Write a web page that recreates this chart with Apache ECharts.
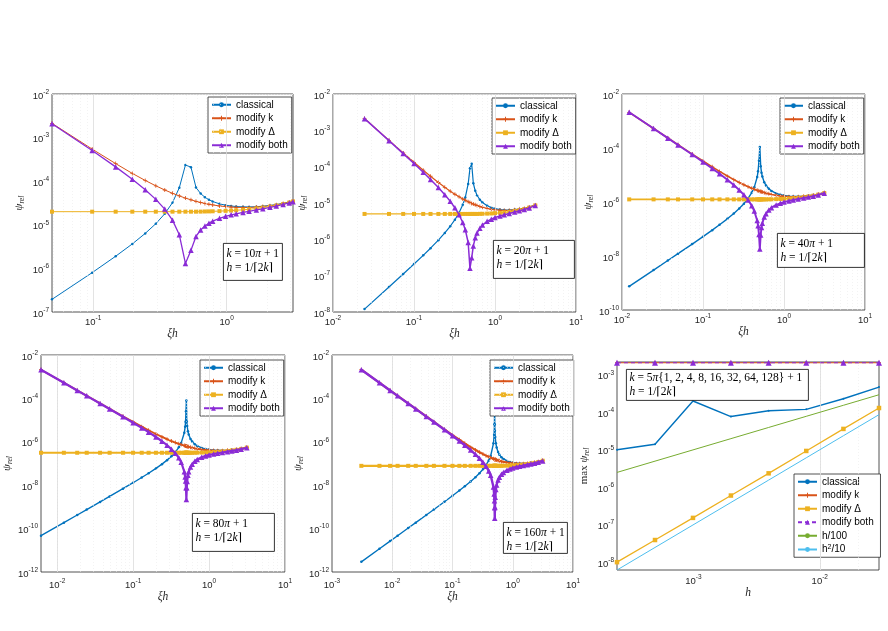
<!DOCTYPE html>
<html>
<head>
<meta charset="utf-8">
<script src="https://cdn.jsdelivr.net/npm/echarts@6/dist/echarts.min.js"></script>
<style>html,body{margin:0;padding:0;background:#fff}#main{width:888px;height:631px}</style>
</head>
<body>
<div id="main"></div>
<script>
// ---- panel 1 : k = 10pi+1 ----
const p1Xi = [0.0491, 0.0982, 0.1473, 0.1963, 0.2454, 0.2945, 0.3436, 0.3927, 0.4418, 0.4909,
  0.5400, 0.5890, 0.6381, 0.6872, 0.7363, 0.7854, 0.8836, 0.9817, 1.0799, 1.1781,
  1.3254, 1.4726, 1.6690, 1.8653, 2.1108, 2.3562, 2.6507, 2.9452, 3.1416];
const p1Classical = [1.95e-7, 8.0e-7, 1.9e-6, 3.64e-6, 6.35e-6, 1.06e-5, 1.79e-5, 3.22e-5, 7.1e-5, 2.35e-4,
  2.1e-4, 7.2e-5, 5.2e-5, 4.29e-5, 3.76e-5, 3.43e-5, 3.02e-5, 2.82e-5, 2.7e-5, 2.62e-5,
  2.58e-5, 2.57e-5, 2.6e-5, 2.67e-5, 2.78e-5, 2.91e-5, 3.11e-5, 3.34e-5, 3.53e-5];
const p1ModK = [2.12e-3, 5.45e-4, 2.53e-4, 1.51e-4, 1.04e-4, 7.83e-5, 6.29e-5, 5.28e-5, 4.59e-5, 4.1e-5,
  3.74e-5, 3.46e-5, 3.25e-5, 3.09e-5, 2.96e-5, 2.86e-5, 2.7e-5, 2.62e-5, 2.55e-5, 2.51e-5,
  2.5e-5, 2.5e-5, 2.55e-5, 2.63e-5, 2.73e-5, 2.87e-5, 3.07e-5, 3.3e-5, 3.49e-5];
const p1ModDelta = [2e-5, 2e-5, 2e-5, 2e-5, 2e-5, 2e-5, 2e-5, 2e-5, 2e-5, 2e-5,
  2e-5, 2e-5, 2.006e-5, 2.02e-5, 2.03e-5, 2.04e-5, 2.06e-5, 2.09e-5, 2.12e-5, 2.15e-5,
  2.21e-5, 2.27e-5, 2.37e-5, 2.48e-5, 2.62e-5, 2.78e-5, 3.0e-5, 3.24e-5, 3.44e-5];
const p1ModBoth = [2.08e-3, 5.05e-4, 2.13e-4, 1.11e-4, 6.4e-5, 3.83e-5, 2.29e-5, 1.28e-5, 5.9e-6, 1.3e-6,
  2.6e-6, 5.4e-6, 7.6e-6, 9.4e-6, 1.09e-5, 1.21e-5, 1.41e-5, 1.57e-5, 1.69e-5, 1.79e-5,
  1.92e-5, 2.04e-5, 2.19e-5, 2.33e-5, 2.51e-5, 2.69e-5, 2.93e-5, 3.18e-5, 3.39e-5];

// ---- panel 2 : k = 20pi+1 ----
const p2Xi = [0.0245, 0.0491, 0.0736,
  0.1, 0.13, 0.16, 0.2, 0.24, 0.28, 0.32, 0.36, 0.4, 0.43,
  0.4663, 0.4909, 0.5154, 0.54,
  0.57, 0.6, 0.65, 0.7, 0.8, 0.9, 1.0, 1.15, 1.3, 1.5, 1.75, 2.0, 2.3, 2.65, 3.14];
const p2Classical = [1.2e-8, 4.87e-8, 1.11e-7,
  2.09e-7, 3.63e-7, 5.7e-7, 9.5e-7, 1.5e-6, 2.29e-6, 3.47e-6, 5.38e-6, 8.9e-6, 1.42e-5,
  3.34e-5, 9e-5, 1.2e-4, 3.5e-5,
  2.17e-5, 1.64e-5, 1.23e-5, 1.03e-5, 8.37e-6, 7.45e-6, 7e-6, 6.6e-6, 6.46e-6, 6.42e-6, 6.59e-6, 6.83e-6, 7.19e-6, 7.78e-6, 8.83e-6];
const p2ModK = [2.11e-3, 5.3e-4, 2.39e-4,
  1.32e-4, 7.99e-5, 5.44e-5, 3.67e-5, 2.7e-5, 2.12e-5, 1.74e-5, 1.48e-5, 1.29e-5, 1.19e-5,
  1.08e-5, 1.03e-5, 9.76e-6, 9.34e-6,
  8.9e-6, 8.52e-6, 8.02e-6, 7.63e-6, 7.08e-6, 6.71e-6, 6.52e-6, 6.31e-6, 6.25e-6, 6.26e-6, 6.47e-6, 6.72e-6, 7.09e-6, 7.68e-6, 8.73e-6];
const p2ModDelta = [5e-6, 5e-6, 5e-6,
  5e-6, 5e-6, 5e-6, 5e-6, 5e-6, 5e-6, 5e-6, 5e-6, 5e-6, 5e-6,
  5e-6, 5e-6, 5e-6, 5e-6,
  5e-6, 5e-6, 5.03e-6, 5.05e-6, 5.1e-6, 5.15e-6, 5.25e-6, 5.35e-6, 5.5e-6, 5.7e-6, 6.05e-6, 6.4e-6, 6.85e-6, 7.5e-6, 8.6e-6];
const p2ModBoth = [2.1e-3, 5.2e-4, 2.29e-4,
  1.22e-4, 6.99e-5, 4.44e-5, 2.67e-5, 1.7e-5, 1.12e-5, 7.35e-6, 4.76e-6, 2.9e-6, 1.84e-6,
  8.2e-7, 1.6e-7, 3.1e-7, 6.6e-7,
  1.1e-6, 1.49e-6, 2.03e-6, 2.47e-6, 3.13e-6, 3.59e-6, 3.99e-6, 4.4e-6, 4.75e-6, 5.14e-6, 5.64e-6, 6.09e-6, 6.61e-6, 7.32e-6, 8.47e-6];

// ---- panel 3 : k = 40pi+1 ----
const p3Xi = [0.01227, 0.02454, 0.0368, 0.0491, 0.0736,
  0.1, 0.13, 0.16, 0.2, 0.24, 0.28, 0.32, 0.36, 0.4, 0.43,
  0.4663, 0.4786, 0.4909, 0.5031, 0.5154, 0.5277, 0.54,
  0.57, 0.6, 0.65, 0.7, 0.8, 0.9, 1.0, 1.15, 1.3, 1.5, 1.75, 2.0, 2.3, 2.65, 3.14];
const p3Classical = [7.5e-10, 3.0e-9, 6.8e-9, 1.22e-8, 2.77e-8,
  5.2e-8, 9.06e-8, 1.43e-7, 2.38e-7, 3.74e-7, 5.71e-7, 8.68e-7, 1.35e-6, 2.23e-6, 3.55e-6,
  8.35e-6, 1.37e-5, 3.34e-5, 1.1e-4, 2.13e-5, 1.22e-5, 8.76e-6,
  5.43e-6, 4.09e-6, 3.08e-6, 2.58e-6, 2.09e-6, 1.86e-6, 1.75e-6, 1.65e-6, 1.61e-6, 1.6e-6, 1.65e-6, 1.71e-6, 1.8e-6, 1.94e-6, 2.21e-6];
const p3ModK = [2.1e-3, 5.28e-4, 2.35e-4, 1.32e-4, 5.96e-5,
  3.29e-5, 2.0e-5, 1.36e-5, 9.16e-6, 6.74e-6, 5.29e-6, 4.34e-6, 3.69e-6, 3.23e-6, 2.96e-6,
  2.71e-6, 2.63e-6, 2.56e-6, 2.5e-6, 2.44e-6, 2.39e-6, 2.34e-6,
  2.22e-6, 2.13e-6, 2.0e-6, 1.91e-6, 1.77e-6, 1.68e-6, 1.63e-6, 1.58e-6, 1.56e-6, 1.57e-6, 1.62e-6, 1.68e-6, 1.77e-6, 1.92e-6, 2.18e-6];
const p3ModDelta = [1.25e-6, 1.25e-6, 1.25e-6, 1.25e-6, 1.25e-6,
  1.25e-6, 1.25e-6, 1.25e-6, 1.25e-6, 1.25e-6, 1.25e-6, 1.25e-6, 1.25e-6, 1.25e-6, 1.25e-6,
  1.25e-6, 1.25e-6, 1.25e-6, 1.25e-6, 1.25e-6, 1.25e-6, 1.25e-6,
  1.25e-6, 1.25e-6, 1.256e-6, 1.26e-6, 1.28e-6, 1.29e-6, 1.31e-6, 1.34e-6, 1.38e-6, 1.43e-6, 1.51e-6, 1.6e-6, 1.71e-6, 1.88e-6, 2.15e-6];
const p3ModBoth = [2.1e-3, 5.26e-4, 2.32e-4, 1.3e-4, 5.71e-5,
  3.04e-5, 1.75e-5, 1.11e-5, 6.66e-6, 4.24e-6, 2.79e-6, 1.84e-6, 1.19e-6, 7.26e-7, 4.6e-7,
  2.05e-7, 1.31e-7, 6.2e-8, 1.8e-8, 5.95e-8, 1.14e-7, 1.65e-7,
  2.76e-7, 3.71e-7, 5.08e-7, 6.18e-7, 7.81e-7, 8.98e-7, 9.96e-7, 1.1e-6, 1.19e-6, 1.29e-6, 1.41e-6, 1.52e-6, 1.65e-6, 1.83e-6, 2.12e-6];

// ---- panel 4 : k = 80pi+1 ----
const p4Xi = [0.006136, 0.01227, 0.0184, 0.02454, 0.0368, 0.0491, 0.0736,
  0.1, 0.13, 0.16, 0.2, 0.24, 0.28, 0.32, 0.36, 0.4, 0.43,
  0.4725, 0.4848, 0.4909, 0.497, 0.5031, 0.5093, 0.5154, 0.5277, 0.54,
  0.57, 0.6, 0.65, 0.7, 0.8, 0.9, 1.0, 1.15, 1.3, 1.5, 1.75, 2.0, 2.3, 2.65, 3.14];
const p4Classical = [4.7e-11, 1.88e-10, 4.24e-10, 7.52e-10, 1.7e-9, 3.04e-9, 6.92e-9,
  1.3e-8, 2.27e-8, 3.56e-8, 5.94e-8, 9.34e-8, 1.43e-7, 2.17e-7, 3.36e-7, 5.56e-7, 8.88e-7,
  2.61e-6, 4.91e-6, 8.34e-6, 2.58e-5, 8e-5, 8.63e-6, 5.31e-6, 3.06e-6, 2.19e-6,
  1.36e-6, 1.02e-6, 7.69e-7, 6.44e-7, 5.23e-7, 4.66e-7, 4.38e-7, 4.12e-7, 4.03e-7, 4.01e-7, 4.12e-7, 4.27e-7, 4.49e-7, 4.86e-7, 5.52e-7];
const p4ModK = [2.1e-3, 5.25e-4, 2.34e-4, 1.32e-4, 5.87e-5, 3.31e-5, 1.49e-5,
  8.22e-6, 4.99e-6, 3.4e-6, 2.29e-6, 1.68e-6, 1.32e-6, 1.08e-6, 9.22e-7, 8.06e-7, 7.41e-7,
  6.67e-7, 6.49e-7, 6.41e-7, 6.33e-7, 6.25e-7, 6.17e-7, 6.1e-7, 5.97e-7, 5.84e-7,
  5.56e-7, 5.32e-7, 5.01e-7, 4.77e-7, 4.42e-7, 4.19e-7, 4.07e-7, 3.94e-7, 3.91e-7, 3.91e-7, 4.04e-7, 4.2e-7, 4.43e-7, 4.8e-7, 5.46e-7];
const p4ModDelta = [3.125e-7, 3.125e-7, 3.125e-7, 3.125e-7, 3.125e-7, 3.125e-7, 3.125e-7,
  3.125e-7, 3.125e-7, 3.125e-7, 3.125e-7, 3.125e-7, 3.125e-7, 3.125e-7, 3.125e-7, 3.125e-7, 3.125e-7,
  3.125e-7, 3.125e-7, 3.125e-7, 3.125e-7, 3.125e-7, 3.125e-7, 3.125e-7, 3.125e-7, 3.125e-7,
  3.125e-7, 3.125e-7, 3.14e-7, 3.16e-7, 3.19e-7, 3.22e-7, 3.28e-7, 3.34e-7, 3.44e-7, 3.56e-7, 3.78e-7, 4.0e-7, 4.28e-7, 4.69e-7, 5.38e-7];
const p4ModBoth = [2.1e-3, 5.25e-4, 2.33e-4, 1.31e-4, 5.81e-5, 3.25e-5, 1.43e-5,
  7.59e-6, 4.37e-6, 2.78e-6, 1.67e-6, 1.06e-6, 6.97e-7, 4.59e-7, 2.98e-7, 1.82e-7, 1.15e-7,
  4.16e-8, 2.39e-8, 1.56e-8, 7.6e-9, 2.2e-9, 7.7e-9, 1.49e-8, 2.86e-8, 4.13e-8,
  6.91e-8, 9.28e-8, 1.27e-7, 1.54e-7, 1.95e-7, 2.24e-7, 2.49e-7, 2.75e-7, 2.97e-7, 3.21e-7, 3.52e-7, 3.8e-7, 4.13e-7, 4.58e-7, 5.29e-7];

// ---- panel 5 : k = 160pi+1 ----
const p5Xi = [0.003068, 0.006136, 0.0092, 0.01227, 0.0184, 0.02454, 0.0368, 0.0491, 0.0736,
  0.1, 0.13, 0.16, 0.2, 0.24, 0.28, 0.32, 0.36, 0.4, 0.43,
  0.4786, 0.4909, 0.497, 0.5001, 0.5031, 0.5062, 0.5123, 0.5246, 0.54,
  0.57, 0.6, 0.65, 0.7, 0.8, 0.9, 1.0, 1.15, 1.3, 1.5, 1.75, 2.0, 2.3, 2.65, 3.14];
const p5Classical = [2.94e-12, 1.18e-11, 2.65e-11, 4.71e-11, 1.06e-10, 1.88e-10, 4.25e-10, 7.61e-10, 1.73e-9,
  3.26e-9, 5.66e-9, 8.91e-9, 1.48e-8, 2.34e-8, 3.57e-8, 5.42e-8, 8.41e-8, 1.39e-7, 2.22e-7,
  8.55e-7, 2.09e-6, 6.45e-6, 1.5e-4, 6.35e-6, 3.21e-6, 1.65e-6, 8.53e-7, 5.48e-7,
  3.39e-7, 2.55e-7, 1.92e-7, 1.61e-7, 1.31e-7, 1.16e-7, 1.09e-7, 1.03e-7, 1.01e-7, 1.0e-7, 1.03e-7, 1.07e-7, 1.12e-7, 1.21e-7, 1.38e-7];
const p5ModK = [2.1e-3, 5.25e-4, 2.34e-4, 1.31e-4, 5.85e-5, 3.3e-5, 1.47e-5, 8.27e-6, 3.73e-6,
  2.05e-6, 1.25e-6, 8.5e-7, 5.73e-7, 4.21e-7, 3.3e-7, 2.71e-7, 2.3e-7, 2.02e-7, 1.85e-7,
  1.64e-7, 1.6e-7, 1.58e-7, 1.57e-7, 1.56e-7, 1.55e-7, 1.53e-7, 1.5e-7, 1.46e-7,
  1.39e-7, 1.33e-7, 1.25e-7, 1.19e-7, 1.11e-7, 1.05e-7, 1.02e-7, 9.85e-8, 9.77e-8, 9.78e-8, 1.01e-7, 1.05e-7, 1.11e-7, 1.2e-7, 1.36e-7];
const p5ModDelta = [7.8e-8, 7.8e-8, 7.8e-8, 7.8e-8, 7.8e-8, 7.8e-8, 7.8e-8, 7.8e-8, 7.8e-8,
  7.8e-8, 7.8e-8, 7.8e-8, 7.8e-8, 7.8e-8, 7.8e-8, 7.8e-8, 7.8e-8, 7.8e-8, 7.8e-8,
  7.8e-8, 7.8e-8, 7.8e-8, 7.8e-8, 7.8e-8, 7.8e-8, 7.8e-8, 7.8e-8, 7.8e-8,
  7.8e-8, 7.8e-8, 7.85e-8, 7.89e-8, 7.97e-8, 8.05e-8, 8.2e-8, 8.36e-8, 8.59e-8, 8.91e-8, 9.45e-8, 1.0e-7, 1.07e-7, 1.17e-7, 1.34e-7];
const p5ModBoth = [2.1e-3, 5.25e-4, 2.33e-4, 1.31e-4, 5.83e-5, 3.29e-5, 1.45e-5, 8.12e-6, 3.57e-6,
  1.9e-6, 1.09e-6, 6.94e-7, 4.16e-7, 2.65e-7, 1.74e-7, 1.15e-7, 7.44e-8, 4.54e-8, 2.88e-8,
  8.2e-9, 3.9e-9, 1.9e-9, 9.1e-10, 3e-10, 9.8e-10, 2.8e-9, 6.3e-9, 1.03e-8,
  1.73e-8, 2.32e-8, 3.17e-8, 3.86e-8, 4.88e-8, 5.61e-8, 6.23e-8, 6.87e-8, 7.42e-8, 8.03e-8, 8.8e-8, 9.51e-8, 1.03e-7, 1.14e-7, 1.32e-7];

// ---- panel 6 : max over xi, versus h ----
const p6H = [2.485e-4, 4.967e-4, 9.921e-4, 1.980e-3, 3.937e-3, 7.813e-3, 1.538e-2, 2.941e-2];
const p6Classical = [1.0e-5, 1.4e-5, 2.0e-4, 7.7e-5, 1.1e-4, 1.2e-4, 2.3e-4, 4.7e-4];
const p6ModK = [2.1e-3, 2.1e-3, 2.1e-3, 2.1e-3, 2.1e-3, 2.1e-3, 2.1e-3, 2.1e-3];
const p6ModDelta = [1.0e-8, 3.9e-8, 1.52e-7, 6.0e-7, 2.35e-6, 9.3e-6, 3.6e-5, 1.3e-4];
const p6ModBoth = [2.1e-3, 2.1e-3, 2.1e-3, 2.1e-3, 2.1e-3, 2.1e-3, 2.1e-3, 2.1e-3];
const p6HOver100 = [2.485e-6, 4.967e-6, 9.921e-6, 1.98e-5, 3.937e-5, 7.813e-5, 1.538e-4, 2.941e-4];
const p6HSqOver10 = [6.18e-9, 2.47e-8, 9.84e-8, 3.92e-7, 1.55e-6, 6.1e-6, 2.37e-5, 8.65e-5];

const kLabels = ['10', '20', '40', '80', '160'];

// ---------------------------------------------------------------
const C = { cls: '#0072BD', k: '#D95319', d: '#EDB120', both: '#8A2BD6', lin: '#77AC30', sq: '#4DBEEE' };
const PLUS = 'path://M4,0H6V4H10V6H6V10H4V6H0V4H4Z';
const SANS = '"Liberation Sans", Arial, sans-serif';
const SERIF = '"Liberation Serif", "DejaVu Serif", serif';

function pairs(xs, ys) { return xs.map((x, i) => [x, ys[i]]); }

function tickFmt(step) {
  return function (v) {
    const e = Math.log10(v);
    const r = Math.round(e);
    if (Math.abs(e - r) > 1e-3 || r % step !== 0) return '';
    return '{b|10}{s|' + r + '}';
  };
}
const tickRich = {
  b: { fontSize: 9.5, color: '#262626', fontFamily: SANS, padding: [4, 0, 0, 0] },
  s: { fontSize: 6.5, color: '#262626', fontFamily: SANS, padding: [0, 0, 4, 0] }
};

// grid lines drawn as markLines through the axis scales
function gridLines(xr, yr, yStep, yMinorAll) {
  const out = [];
  const major = { color: '#dcdcdc', width: 0.8, type: 'solid' };
  const minor = { color: '#ebebeb', width: 0.6, type: [1, 2] };
  function add(range, key, step, minorAll) {
    const lo = Math.floor(Math.log10(range[0]));
    const hi = Math.ceil(Math.log10(range[1]));
    for (let e = lo; e <= hi; e++) {
      for (let m = 1; m <= 9; m++) {
        const v = m * Math.pow(10, e);
        if (v < range[0] * 0.9999 || v > range[1] * 1.0001) continue;
        let st = null;
        if (m === 1 && e % step === 0) st = major;
        else if (m === 1 || minorAll) st = minor;
        if (st) out.push({ [key]: v, lineStyle: st });
      }
    }
  }
  add(xr, 'xAxis', 1, true);
  add(yr, 'yAxis', yStep, yMinorAll);
  return out;
}

// w: line width used for the dense curves of each panel
const layout = [
  { grid: [52, 94, 241, 218], x: [0.0491, 3.1416], y: [1e-7, 1e-2], yStep: 1, yMinor: true, lm: 1, ng: 7, yng: 25, legend: [208, 97], note: [223, 243, 59, 37], w: 1 },
  { grid: [333, 94, 243, 218], x: [1e-2, 10], y: [1e-8, 1e-2], yStep: 1, yMinor: true, lm: 1, ng: 7, yng: 23, legend: [492, 98], note: [493, 240, 81, 38], w: 1.2 },
  { grid: [622, 94, 243, 216], x: [1e-2, 10], y: [1e-10, 1e-2], yStep: 2, yMinor: false, lm: 1, ng: 7, yng: 19, legend: [780, 98], note: [777, 233, 87, 34], w: 1.6 },
  { grid: [41, 355, 244, 217], x: [0.006136, 10], y: [1.00001e-12, 1e-2], yStep: 2, yMinor: false, lm: 4, ng: 17, yng: 25, legend: [200, 360], note: [192, 513, 82, 38], w: 1.9 },
  { grid: [332, 355, 241, 217], x: [1e-3, 10], y: [1.00001e-12, 1e-2], yStep: 2, yMinor: false, lm: 4, ng: 17, yng: 25, legend: [490, 360], note: [503, 522, 64, 31], w: 2.1 },
  { grid: [617, 362, 262, 208], x: [2.485e-4, 2.941e-2], y: [6.18e-9, 2.2e-3], yStep: 1, yMinor: true, lm: 2, ng: 12, yng: 25, legend: [794, 474], note: [626, 369, 182, 31], w: 1 }
];

const panelData = [
  [p1Xi, p1Classical, p1ModK, p1ModDelta, p1ModBoth],
  [p2Xi, p2Classical, p2ModK, p2ModDelta, p2ModBoth],
  [p3Xi, p3Classical, p3ModK, p3ModDelta, p3ModBoth],
  [p4Xi, p4Classical, p4ModK, p4ModDelta, p4ModBoth],
  [p5Xi, p5Classical, p5ModK, p5ModDelta, p5ModBoth]
];

function line(name, idx, xs, ys, color, symbol, size, z, width, extra) {
  return Object.assign({
    name: name, type: 'line', xAxisIndex: idx, yAxisIndex: idx,
    data: pairs(xs, ys), symbol: symbol, symbolSize: size, showSymbol: symbol !== 'none',
    color: color, lineStyle: { width: width, color: color }, itemStyle: { color: color },
    z: z, animation: false, emphasis: { disabled: true }
  }, extra || {});
}

const grids = [], xAxes = [], yAxes = [], series = [], legends = [], graphics = [];

const noteRich = {
  i: { fontFamily: SERIF, fontStyle: 'italic', fontSize: 11.5, color: '#000' }
};

layout.forEach((L, i) => {
  grids.push({ left: L.grid[0], top: L.grid[1], width: L.grid[2], height: L.grid[3],
    show: true, backgroundColor: '#fff', borderColor: '#262626', borderWidth: 0.8 });
  xAxes.push({
    type: 'log', gridIndex: i, min: L.x[0], max: L.x[1],
    axisLine: { show: false }, axisTick: { show: false }, splitLine: { show: false },
    axisLabel: { formatter: tickFmt(1), margin: L.lm, rich: tickRich, hideOverlap: false },
    name: i === 5 ? '{v|h}' : '{v|ξh}', nameLocation: 'middle', nameGap: L.ng,
    nameTextStyle: { rich: { v: { fontFamily: SERIF, fontStyle: 'italic', fontSize: 11.5, color: '#262626' } } }
  });
  yAxes.push({
    type: 'log', gridIndex: i, min: L.y[0], max: L.y[1], splitNumber: 8,
    axisLine: { show: false }, axisTick: { show: false }, splitLine: { show: false },
    axisLabel: { formatter: tickFmt(L.yStep), margin: 3, rich: tickRich, hideOverlap: false },
    name: (i === 5 ? '{m|max }' : '') + '{p|ψ}{r|rel}', nameLocation: 'middle', nameRotate: 90, nameGap: L.yng,
    nameTextStyle: { rich: {
      m: { fontFamily: SERIF, fontSize: 11, color: '#262626', padding: [0, 0, 2, 0] },
      p: { fontFamily: SERIF, fontStyle: 'italic', fontSize: 11, color: '#262626', padding: [0, 0, 2, 0] },
      r: { fontFamily: SERIF, fontStyle: 'italic', fontSize: 7.5, color: '#262626', padding: [4, 0, 0, 0] }
    } }
  });
  series.push({
    type: 'line', xAxisIndex: i, yAxisIndex: i, data: [], z: 1, silent: true, animation: false,
    markLine: { silent: true, symbol: ['none', 'none'], label: { show: false }, animation: false,
      emphasis: { disabled: true }, data: gridLines(L.x, L.y, L.yStep, L.yMinor) }
  });

  const sfx = i === 5 ? ' ' : '';
  if (i < 5) {
    const d = panelData[i];
    series.push(line('classical', i, d[0], d[1], C.cls, 'circle', 2.5, 3, Math.min(L.w, 1.4)));
    series.push(line('modify k', i, d[0], d[2], C.k, PLUS, 4, 4, L.w));
    series.push(line('modify Δ', i, d[0], d[3], C.d, 'rect', 4, 5, L.w));
    series.push(line('modify both', i, d[0], d[4], C.both, 'triangle', 5.5, 6, L.w + 0.3));
  } else {
    series.push(line('classical ', i, p6H, p6Classical, C.cls, 'circle', 2, 3, 1.4));
    series.push(line('modify k ', i, p6H, p6ModK, C.k, PLUS, 4, 4, 1));
    series.push(line('modify Δ ', i, p6H, p6ModDelta, C.d, 'rect', 4.5, 5, 1.3));
    series.push(line('modify both ', i, p6H, p6ModBoth, C.both, 'triangle', 6, 6, 1.2,
      { lineStyle: { width: 1.2, color: C.both, type: [4, 3] } }));
    series.push(line('h/100', i, p6H, p6HOver100, C.lin, 'none', 0, 7, 1));
    series.push(line('h2/10', i, p6H, p6HSqOver10, C.sq, 'none', 0, 8, 1));
  }

  const names = ['classical', 'modify k', 'modify Δ', 'modify both'].map(n => n + sfx);
  if (i === 5) names.push('h/100', 'h2/10');
  legends.push({
    orient: 'vertical', left: L.legend[0], top: L.legend[1], data: names, selectedMode: false,
    itemWidth: 19, itemHeight: 6, itemGap: 2, padding: [2, 4, 2, 3],
    backgroundColor: '#fff', borderColor: '#262626', borderWidth: 0.8, borderRadius: 0,
    itemStyle: { borderWidth: 0 },
    textStyle: { fontSize: 10, fontFamily: SANS, color: '#000', lineHeight: 11.5,
      rich: { t: { fontSize: 10, fontFamily: SANS, color: '#000' }, s: { fontSize: 7, fontFamily: SANS, color: '#000', padding: [0, 0, 5, 0] } } },
    formatter: function (n) { return n === 'h2/10' ? '{t|h}{s|2}{t|/10}' : n; }
  });

  const line1 = i < 5
    ? '{i|k} = ' + kLabels[i] + '{i|π} + 1'
    : '{i|k} = 5{i|π}{1, 2, 4, 8, 16, 32, 64, 128} + 1';
  const N = L.note;
  graphics.push({
    type: 'group', left: N[0], top: N[1], z: 100,
    children: [
      { type: 'rect', z: 100, shape: { x: 0, y: 0, width: N[2], height: N[3] },
        style: { fill: '#fff', stroke: '#000', lineWidth: 0.8 } },
      { type: 'text', z: 101, x: 3, y: i === 5 ? 2 : 4,
        style: { text: line1 + '\n{i|h} = 1/⌈2{i|k}⌉', fontFamily: SERIF, fontSize: 11.5,
          lineHeight: 13.5, fill: '#000', rich: noteRich } }
    ]
  });
});

const chart = echarts.init(document.getElementById('main'), null, { renderer: 'canvas' });
chart.setOption({
  animation: false,
  backgroundColor: '#fff',
  grid: grids, xAxis: xAxes, yAxis: yAxes, series: series, legend: legends, graphic: graphics
});
</script>
</body>
</html>
